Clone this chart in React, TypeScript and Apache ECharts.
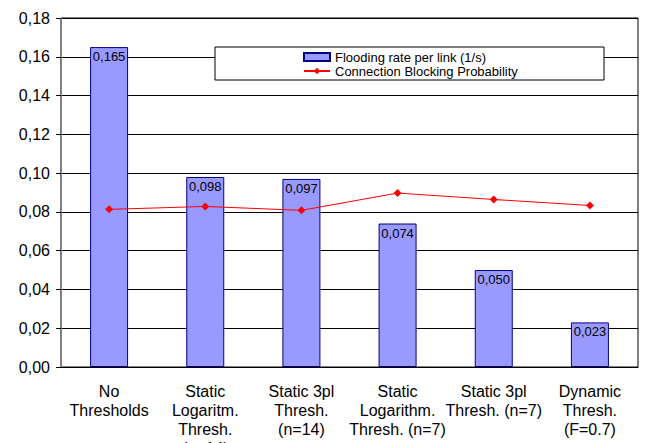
import React, { useEffect, useRef } from "react";
import * as echarts from "echarts";

const categories = [
  "No\nThresholds",
  "Static\nLogaritm.\nThresh.\n(n=14)",
  "Static 3pl\nThresh.\n(n=14)",
  "Static\nLogarithm.\nThresh. (n=7)",
  "Static 3pl\nThresh. (n=7)",
  "Dynamic\nThresh.\n(F=0.7)",
];
const floodingRate = [0.165, 0.098, 0.097, 0.074, 0.05, 0.023];
const blockingProb = [0.0813, 0.0828, 0.0808, 0.0897, 0.0864, 0.0833];
const seriesNames = ["Flooding rate per link (1/s)", "Connection Blocking Probability"];

const FONT = "Liberation Sans, Arial, sans-serif";

export default function App() {
  const ref = useRef<HTMLDivElement>(null);
  useEffect(() => {
    if (!ref.current) return;
    const chart = echarts.init(ref.current, undefined, { renderer: "svg" });
    chart.setOption({
      animation: false,
      backgroundColor: "#fff",
      textStyle: { fontFamily: FONT },
      grid: {
        left: 61,
        right: 10,
        top: 18,
        bottom: 76,
        outerBoundsMode: "none",
        containLabel: false,
        show: true,
        borderColor: "#000",
        borderWidth: 1,
        backgroundColor: "transparent",
      },
      graphic: [
        {
          type: "rect",
          z: 3,
          shape: { x: 215, y: 47, width: 389, height: 33 },
          style: { fill: "#fff", stroke: "#000", lineWidth: 1 },
        },
      ],
      legend: {
        orient: "vertical",
        left: 303,
        top: 50,
        padding: 0,
        itemGap: 0,
        itemWidth: 26,
        itemHeight: 8,
        z: 5,
        textStyle: { fontFamily: FONT, fontSize: 13, color: "#000", lineHeight: 14 },
        data: [
          { name: seriesNames[0], icon: "rect" },
          { name: seriesNames[1] },
        ],
      },
      xAxis: {
        type: "category",
        data: categories,
        axisLine: { lineStyle: { color: "#000", width: 1 } },
        axisTick: { show: false },
        axisLabel: {
          interval: 0,
          margin: 15,
          fontFamily: FONT,
          fontSize: 16,
          lineHeight: 19,
          color: "#000",
        },
      },
      yAxis: {
        type: "value",
        min: 0,
        max: 0.18,
        interval: 0.02,
        axisLine: { show: true, lineStyle: { color: "#808080", width: 1 } },
        axisTick: { show: true, length: 5, lineStyle: { color: "#000" } },
        splitLine: { show: true, lineStyle: { color: "#000", width: 1 } },
        axisLabel: {
          margin: 11,
          fontFamily: FONT,
          fontSize: 16,
          color: "#000",
          formatter: (v: number) => v.toFixed(2).replace(".", ","),
        },
      },
      series: [
        {
          name: seriesNames[0],
          type: "bar",
          data: floodingRate,
          barWidth: 38,
          itemStyle: { color: "#9999ff", borderColor: "#000080", borderWidth: 1 },
          label: {
            show: true,
            position: "insideTop",
            distance: 3,
            fontFamily: FONT,
            fontSize: 13,
            color: "#000",
            formatter: (p: any) => p.value.toFixed(3).replace(".", ","),
          },
        },
        {
          name: seriesNames[1],
          type: "line",
          data: blockingProb,
          symbol: "diamond",
          symbolSize: 8,
          lineStyle: { color: "#ff0000", width: 1 },
          itemStyle: { color: "#ff0000" },
          z: 4,
        },
      ],
    });
    return () => chart.dispose();
  }, []);
  return (
    <div
      ref={ref}
      style={{ position: "fixed", left: 0, top: 0, width: 648, height: 443 }}
    />
  );
}
